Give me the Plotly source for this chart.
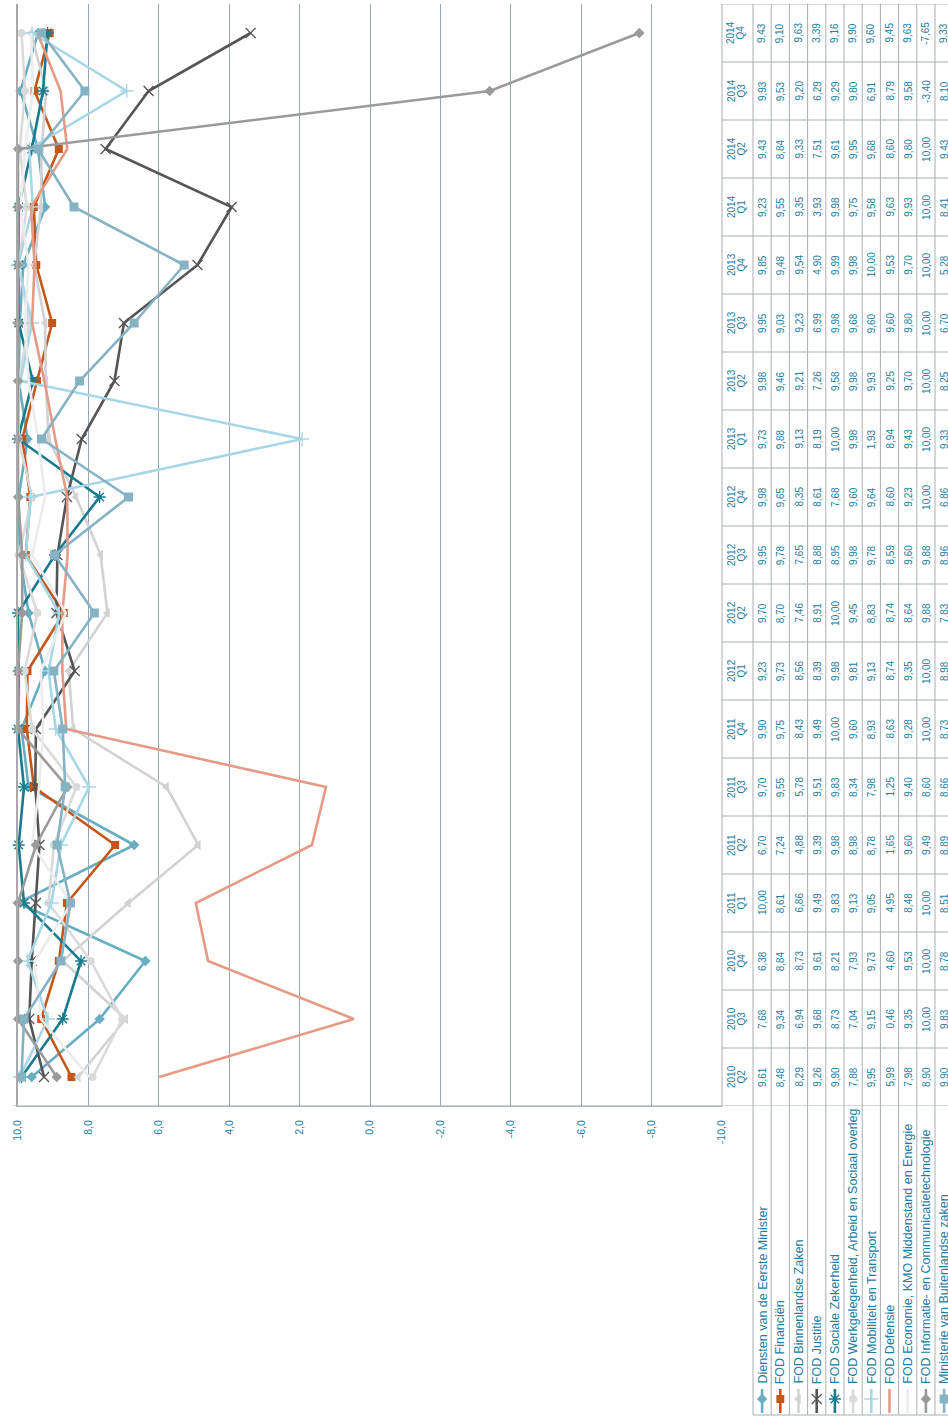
import plotly.graph_objects as go

# ---------------------------------------------------------------- data
quarters = ["2010 Q2", "2010 Q3", "2010 Q4", "2011 Q1", "2011 Q2", "2011 Q3", "2011 Q4",
            "2012 Q1", "2012 Q2", "2012 Q3", "2012 Q4", "2013 Q1", "2013 Q2", "2013 Q3",
            "2013 Q4", "2014 Q1", "2014 Q2", "2014 Q3", "2014 Q4"]

diensten_eerste_minister = [9.61, 7.68, 6.38, 10.00, 6.70, 9.70, 9.90, 9.23, 9.70, 9.95,
                            9.98, 9.73, 9.98, 9.95, 9.85, 9.23, 9.43, 9.93, 9.43]
fod_financien = [8.48, 9.34, 8.84, 8.61, 7.24, 9.55, 9.75, 9.73, 8.70, 9.78,
                 9.65, 9.88, 9.46, 9.03, 9.48, 9.55, 8.84, 9.53, 9.10]
fod_binnenlandse_zaken = [8.29, 6.94, 8.73, 6.86, 4.88, 5.78, 8.43, 8.56, 7.46, 7.65,
                          8.35, 9.13, 9.21, 9.23, 9.54, 9.35, 9.33, 9.20, 9.63]
fod_justitie = [9.26, 9.68, 9.61, 9.49, 9.39, 9.51, 9.49, 8.39, 8.91, 8.88,
                8.61, 8.19, 7.26, 6.99, 4.90, 3.93, 7.51, 6.29, 3.39]
fod_sociale_zekerheid = [9.90, 8.73, 8.21, 9.83, 9.98, 9.83, 10.00, 9.98, 10.00, 8.95,
                         7.68, 10.00, 9.58, 9.98, 9.99, 9.98, 9.61, 9.29, 9.16]
fod_werkgelegenheid = [7.88, 7.04, 7.93, 9.13, 8.98, 8.34, 9.60, 9.81, 9.45, 9.98,
                       9.60, 9.98, 9.98, 9.68, 9.98, 9.75, 9.95, 9.80, 9.90]
fod_mobiliteit = [9.95, 9.15, 9.73, 9.05, 8.78, 7.98, 8.93, 9.13, 8.83, 9.78,
                  9.64, 1.93, 9.93, 9.60, 10.00, 9.58, 9.68, 6.91, 9.60]
fod_defensie = [5.99, 0.46, 4.60, 4.95, 1.65, 1.25, 8.63, 8.74, 8.74, 8.59,
                8.60, 8.94, 9.25, 9.60, 9.53, 9.63, 8.60, 8.79, 9.45]
fod_economie = [7.98, 9.35, 9.53, 8.48, 9.60, 9.40, 9.28, 9.35, 8.64, 9.60,
                9.23, 9.43, 9.70, 9.80, 9.70, 9.93, 9.80, 9.58, 9.63]
fod_ict = [8.90, 10.00, 10.00, 10.00, 9.49, 8.60, 10.00, 10.00, 9.88, 9.88,
           10.00, 10.00, 10.00, 10.00, 10.00, 10.00, 10.00, -3.40, -7.65]
buitenlandse_zaken = [9.90, 9.83, 8.78, 8.51, 8.89, 8.66, 8.73, 8.98, 7.83, 8.96,
                      6.86, 9.33, 8.25, 6.70, 5.28, 8.41, 9.43, 8.10, 9.33]

series_names = ["Diensten van de Eerste Minister", "FOD Financiën", "FOD Binnenlandse Zaken",
                "FOD Justitie", "FOD Sociale Zekerheid",
                "FOD Werkgelegenheid, Arbeid en Sociaal overleg", "FOD Mobiliteit en Transport",
                "FOD Defensie", "FOD Economie, KMO Middenstand en Energie",
                "FOD Informatie- en Communicatietechnologie", "Ministerie van Buitenlandse zaken"]
series_values = [diensten_eerste_minister, fod_financien, fod_binnenlandse_zaken, fod_justitie,
                 fod_sociale_zekerheid, fod_werkgelegenheid, fod_mobiliteit, fod_defensie,
                 fod_economie, fod_ict, buitenlandse_zaken]

value_ticks = [10, 8, 6, 4, 2, 0, -2, -4, -6, -8, -10]

# ---------------------------------------------------------------- styles
# (line colour, marker symbol or None, marker size, marker line colour)
styles = [
    ("#67aec3", "diamond", 8, None),
    ("#c4561c", "square", 8, None),
    ("#d2d2d2", "triangle-left", 9, None),
    ("#555555", "x-thin-open", 10, "#8a8a8a"),
    ("#187b8d", "asterisk-open", 10, "#187b8d"),
    ("#dadada", "circle", 8, None),
    ("#a7d7e7", "cross-thin-open", 10, "#a7d7e7"),
    ("#e69a86", None, 0, None),
    ("#ececec", None, 0, None),
    ("#9a9a9a", "diamond", 8, None),
    ("#86b3c4", "square", 9, None),
]

W, H = 948, 1419
PLOT_L, PLOT_R, PLOT_T, PLOT_B = 18, 722, 4, 1106
TABLE_L, HEAD_R, ROW_W = 722, 753, 18.2
LEGEND_TEXT_BOTTOM, LEGEND_B = 1385, 1415
TEXT_COLOR = "#237da2"
GRID_COLOR = "#99a8b0"
BORDER_COLOR = "#a7afb4"
FONT = "Liberation Sans, Arial, sans-serif"


def fmt(v, digits):
    return f"{v:.{digits}f}".replace(".", ",")


fig = go.Figure()

idx = list(range(len(quarters)))

# value lines
for name, vals, (col, sym, size, mline) in zip(series_names, series_values, styles):
    if sym is None:
        fig.add_trace(go.Scatter(x=vals, y=idx, mode="lines", name=name,
                                 line=dict(color=col, width=2.6), cliponaxis=False,
                                 showlegend=False))
    else:
        marker = dict(symbol=sym, size=size, color=col)
        if mline:
            marker["line"] = dict(color=mline, width=1.3)
        fig.add_trace(go.Scatter(x=vals, y=idx, mode="lines+markers", name=name,
                                 line=dict(color=col, width=2.6), marker=marker,
                                 cliponaxis=False, showlegend=False))

# legend keys inside the table (pixel axes)
row_centers = [HEAD_R + ROW_W * (i + 0.5) for i in range(len(series_names))]
for cx, (col, sym, size, mline) in zip(row_centers, styles):
    fig.add_trace(go.Scatter(x=[cx, cx], y=[1389, 1413], mode="lines",
                             line=dict(color=col, width=2.6), xaxis="x2", yaxis="y2",
                             showlegend=False, hoverinfo="skip"))
    if sym is not None:
        marker = dict(symbol=sym, size=size, color=col)
        if mline:
            marker["line"] = dict(color=mline, width=1.3)
        fig.add_trace(go.Scatter(x=[cx], y=[1399], mode="markers", marker=marker,
                                 xaxis="x2", yaxis="y2", showlegend=False,
                                 hoverinfo="skip"))

shapes = []
annotations = []

# table column borders (one column per quarter)
for k in range(len(quarters) + 1):
    yb = k - 0.5
    x0 = 13 if k == 0 else TABLE_L
    shapes.append(dict(type="line", xref="x2", yref="y", x0=x0, x1=W + 5, y0=yb, y1=yb,
                       line=dict(color=BORDER_COLOR, width=1)))
# table left edge and header edge
shapes.append(dict(type="line", xref="x2", yref="y2", x0=TABLE_L, x1=TABLE_L,
                   y0=PLOT_T, y1=PLOT_B, line=dict(color=BORDER_COLOR, width=1)))
# row separators, running through the legend block
for k in range(len(series_names) + 1):
    xr = HEAD_R + ROW_W * k
    shapes.append(dict(type="line", xref="x2", yref="y2", x0=xr, x1=xr,
                       y0=PLOT_T, y1=LEGEND_B, line=dict(color=BORDER_COLOR, width=1)))
shapes.append(dict(type="line", xref="x2", yref="y2", x0=HEAD_R, x1=W + 5,
                   y0=LEGEND_B, y1=LEGEND_B, line=dict(color=BORDER_COLOR, width=1)))

# header cells
for i, q in enumerate(quarters):
    year, qq = q.split()
    annotations.append(dict(x=731, y=i, xref="x2", yref="y", text=year, textangle=-90,
                            showarrow=False, xanchor="center", yanchor="middle",
                            font=dict(family=FONT, size=10, color=TEXT_COLOR), borderpad=0))
    annotations.append(dict(x=740.5, y=i, xref="x2", yref="y", text=qq, textangle=-90,
                            showarrow=False, xanchor="center", yanchor="middle",
                            font=dict(family=FONT, size=10, color=TEXT_COLOR), borderpad=0))

# value cells
for cx, vals in zip(row_centers, series_values):
    for i, v in enumerate(vals):
        annotations.append(dict(x=cx, y=i, xref="x2", yref="y", text=fmt(v, 2),
                                textangle=-90, showarrow=False, xanchor="center",
                                yanchor="middle", borderpad=0,
                                font=dict(family=FONT, size=10, color=TEXT_COLOR)))

# legend labels
for cx, name in zip(row_centers, series_names):
    annotations.append(dict(x=cx, y=LEGEND_TEXT_BOTTOM, xref="x2", yref="y2", text=name,
                            textangle=-90, showarrow=False, xanchor="center",
                            yanchor="bottom", borderpad=0,
                            font=dict(family=FONT, size=12.5, color=TEXT_COLOR)))

fig.update_layout(
    width=W, height=H,
    margin=dict(l=0, r=0, t=0, b=0, pad=0, autoexpand=False),
    paper_bgcolor="white",
    plot_bgcolor="rgba(0,0,0,0)",
    showlegend=False,
    shapes=shapes,
    annotations=annotations,
    xaxis=dict(domain=[PLOT_L / W, PLOT_R / W], range=[10, -10], autorange=False,
               tickvals=value_ticks, ticktext=[fmt(v, 1) for v in value_ticks],
               tickangle=-90, ticks="", ticklabelstandoff=9, automargin=False,
               tickfont=dict(family=FONT, size=10.5, color=TEXT_COLOR),
               showgrid=True, gridcolor=GRID_COLOR, gridwidth=1, zeroline=False,
               showline=True, linecolor=BORDER_COLOR, linewidth=1, anchor="y"),
    yaxis=dict(domain=[1 - PLOT_B / H, 1 - PLOT_T / H], range=[-0.5, len(quarters) - 0.5],
               autorange=False, showticklabels=False, showgrid=False, zeroline=False,
               automargin=False,
               showline=True, linecolor="#a9a9a9", linewidth=1.5, anchor="x"),
    xaxis2=dict(domain=[0, 1], range=[0, W], autorange=False, visible=False, anchor="y2",
                automargin=False),
    yaxis2=dict(domain=[0, 1], range=[H, 0], autorange=False, visible=False, anchor="x2",
                automargin=False),
)

fig.write_html("out.html")
